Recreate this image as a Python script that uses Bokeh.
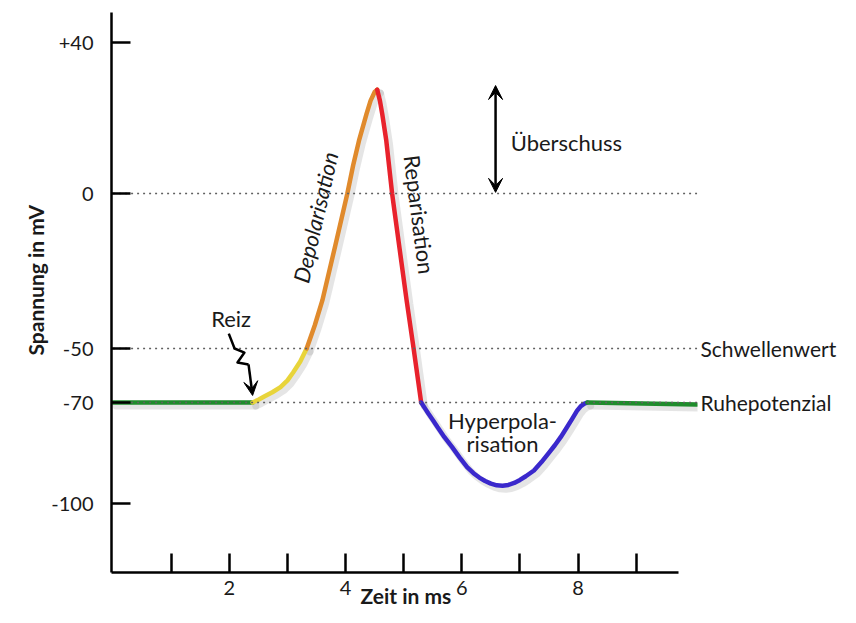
import numpy as np
from bokeh.plotting import figure
from bokeh.models import FixedTicker, Range1d, Arrow, VeeHead, LinearAxis, Title
from bokeh.core.properties import value
from bokeh.embed import file_html
from bokeh.resources import INLINE

FONT = "Lato"

# schematic (non-uniform) voltage axis: mV -> plot position
MV_KNOTS = [-121, -100, -70, -50, 0, 40, 48]
POS_KNOTS = [0, 69, 170, 224, 379, 530, 560]


def ypos(mv):
    return np.interp(np.asarray(mv, dtype=float), MV_KNOTS, POS_KNOTS)


# tick labels
Y_TICKS_MV = [40, 0, -50, -70, -100]
Y_TICK_LABELS = ["+40", "0", "-50", "-70", "-100"]
X_TICKS = [1, 2, 3, 4, 5, 6, 7, 8, 9]
X_TICK_LABELS = ["", "2", "", "4", "", "6", "", "8", ""]

# action potential, segment by segment (time in ms, voltage in mV)
rest1_t = [0.0, 2.40]
rest1_v = [-70, -70]
stim_t = [2.40, 2.50, 2.60, 2.74, 2.88, 3.00, 3.10, 3.22, 3.33]
stim_v = [-70, -69.0, -67.8, -66.2, -64.3, -61.8, -58.8, -54.8, -50]
depol_t = [3.33, 3.47, 3.60, 3.82, 4.03, 4.13, 4.23, 4.36, 4.43, 4.50, 4.544]
depol_v = [-50, -42.5, -34.5, -17, 0, 7.5, 14.0, 21.1, 24.6, 26.9, 27.5]
repol_t = [4.544, 4.59, 4.63, 4.70, 4.80, 4.93, 5.05, 5.17, 5.30]
repol_v = [27.5, 24.6, 21.1, 14.0, 0, -18, -34.5, -50, -70]
hyper_t = [5.30, 5.36, 5.42, 5.50, 5.58, 5.70, 5.83, 5.96, 6.09, 6.20, 6.30,
           6.40, 6.50, 6.60, 6.70, 6.80, 6.90, 7.00, 7.10, 7.24, 7.37, 7.50,
           7.60, 7.70, 7.80, 7.90, 7.98, 8.04, 8.10, 8.16]
hyper_v = [-70, -71.6, -73.2, -75.2, -77.3, -80.3, -83.2, -86.3, -89.2, -91.0,
           -92.3, -93.3, -94.1, -94.6, -94.7, -94.5, -93.9, -93.0, -91.9, -90.2,
           -87.7, -84.9, -82.7, -80.3, -77.6, -74.8, -72.5, -71.2, -70.4, -70]
rest2_t = [8.16, 10.04]
rest2_v = [-70, -70.6]

SEGMENTS = [
    (rest1_t, rest1_v, "#1f8c2c"),
    (stim_t, stim_v, "#e8d43a"),
    (depol_t, depol_v, "#e08a2c"),
    (repol_t, repol_v, "#e8222c"),
    (hyper_t, hyper_v, "#3a28cc"),
    (rest2_t, rest2_v, "#1f8c2c"),
]

# reference levels (dotted) and their names on the right
REF_LEVELS_MV = [0, -50, -70]
REF_NAMES = ["Schwellenwert", "Ruhepotenzial"]
REF_NAME_MV = [-50, -70]
REF_END_T = 10.05

# stimulus squiggle (Reiz)
reiz_t = [1.99, 2.09, 2.26, 2.14, 2.33]
reiz_v = [-45.2, -50.0, -51.5, -55.2, -55.9]
reiz_tip = (2.40, -67.4)

p = figure(width=840, height=607, output_backend="svg", toolbar_location=None,
           x_range=Range1d(-0.0275, 10.054), y_range=Range1d(0, 560),
           min_border_left=111, min_border_right=143, min_border_top=12,
           min_border_bottom=35)
p.outline_line_color = None
p.xgrid.visible = False
p.ygrid.visible = False
p.background_fill_color = "white"
p.border_fill_color = "white"

# curve with a soft shadow
for t, v, col in SEGMENTS:
    p.line(np.asarray(t) + 0.055, ypos(v) - 3.5, line_color="#999999",
           line_alpha=0.25, line_width=7, line_cap="round")
for t, v, col in SEGMENTS:
    p.line(t, ypos(v), line_color=col, line_width=4.5, line_cap="round",
           line_join="round")

# dotted reference lines
for lv in REF_LEVELS_MV:
    yy = float(ypos(lv))
    p.line([0, REF_END_T], [yy, yy], line_color="#606060", line_width=1.7,
           line_dash="2 4")

txt = dict(text_font=value(FONT), text_font_size="22px", text_color="#1a1a1a")

# phase labels
p.text(x=[3.48], y=ypos([-7.7]), text=["Depolarisation"], angle=1.345,
       text_align="center", text_baseline="middle", text_font_style="italic",
       **txt)
p.text(x=[5.27], y=ypos([-6.8]), text=["Reparisation"], angle=-1.445,
       text_align="center", text_baseline="middle", **txt)
p.text(x=[6.70, 6.70], y=ypos([-75.3, -82.2]), text=["Hyperpola-", "risation"],
       text_align="center", text_baseline="middle", **txt)
p.text(x=[2.03], y=ypos([-40.3]), text=["Reiz"], text_align="center",
       text_baseline="middle", **txt)
p.text(x=[6.84], y=ypos([13.5]), text=["Überschuss"], text_align="left",
       text_baseline="middle", **txt)

# stimulus squiggle with arrow
p.line(reiz_t, ypos(reiz_v), line_color="black", line_width=2.5,
       line_join="round")
p.add_layout(Arrow(end=VeeHead(size=14, fill_color="black", line_color="black"),
                   x_start=reiz_t[-1], y_start=float(ypos(reiz_v[-1])),
                   x_end=reiz_tip[0], y_end=float(ypos(reiz_tip[1])),
                   line_color="black", line_width=2.5))

# overshoot double arrow
p.add_layout(Arrow(start=VeeHead(size=14, fill_color="black", line_color="black"),
                   end=VeeHead(size=14, fill_color="black", line_color="black"),
                   x_start=6.58, y_start=float(ypos(0.3)),
                   x_end=6.58, y_end=float(ypos(28.6)),
                   line_color="black", line_width=2.5))

# x axis
xa = p.xaxis[0]
xa.ticker = FixedTicker(ticks=X_TICKS)
xa.major_label_overrides = {t: l for t, l in zip(X_TICKS, X_TICK_LABELS)}
xa.minor_tick_line_color = None
xa.major_tick_in = 19
xa.major_tick_out = 0
xa.major_tick_line_width = 2.5
xa.axis_line_width = 2.5
xa.bounds = (-0.03, 9.73)
xa.major_label_standoff = 8
xa.major_label_text_font = FONT
xa.major_label_text_font_size = "20px"
xa.major_label_text_color = "#1a1a1a"

# y axis
ya = p.yaxis[0]
y_tick_pos = [float(v) for v in ypos(Y_TICKS_MV)]
ya.ticker = FixedTicker(ticks=y_tick_pos)
ya.major_label_overrides = {t: l for t, l in zip(y_tick_pos, Y_TICK_LABELS)}
ya.minor_tick_line_color = None
ya.major_tick_in = 19
ya.major_tick_out = 0
ya.major_tick_line_width = 2.5
ya.axis_line_width = 2.5
ya.major_label_standoff = 18
ya.major_label_text_font = FONT
ya.major_label_text_font_size = "20px"
ya.major_label_text_color = "#1a1a1a"

title_style = dict(text_font=FONT, text_font_size="21px",
                   text_font_style="bold", text_color="#1a1a1a")

# axis titles, placed where the reference has them
p.add_layout(Title(text="Spannung in mV", align="left", offset=217,
                   vertical_align="bottom", standoff=2, **title_style), "left")
p.add_layout(Title(text="Zeit in ms", align="left", offset=249,
                   vertical_align="top", standoff=-30, **title_style), "below")

# names of the reference levels, as labels of a right-hand axis
name_pos = [float(v) for v in ypos(REF_NAME_MV)]
ra = LinearAxis(ticker=FixedTicker(ticks=name_pos),
                major_label_overrides={t: l for t, l in zip(name_pos, REF_NAMES)},
                axis_line_color=None, major_tick_line_color=None,
                minor_tick_line_color=None, major_tick_in=0, major_tick_out=0,
                minor_tick_in=0, minor_tick_out=0, major_label_standoff=3)
ra.major_label_text_font = FONT
ra.major_label_text_font_size = "21px"
ra.major_label_text_color = "#1a1a1a"
p.add_layout(ra, "right")

open("out.html", "w").write(file_html(p, INLINE))
